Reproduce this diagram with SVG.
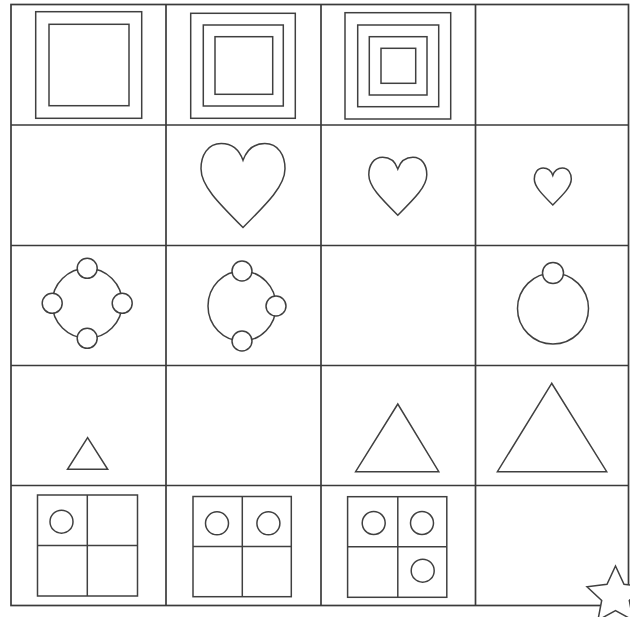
<svg xmlns="http://www.w3.org/2000/svg" width="630" height="617" viewBox="0 0 630 617">
<style>
.grid{fill:none;stroke:#3a3a3a;stroke-width:1.7}
.s{fill:none;stroke:#404040;stroke-width:1.5}
.w{fill:#fff;stroke:#404040;stroke-width:1.5}
</style>
<rect width="630" height="617" fill="#fff"/>
<g id="grid" class="grid">
<rect x="11" y="4.5" width="617.5" height="601"/>
<line x1="166" y1="4.5" x2="166" y2="605.5"/>
<line x1="321" y1="4.5" x2="321" y2="605.5"/>
<line x1="475.5" y1="4.5" x2="475.5" y2="605.5"/>
<line x1="11" y1="125" x2="628.5" y2="125"/>
<line x1="11" y1="245.5" x2="628.5" y2="245.5"/>
<line x1="11" y1="365.5" x2="628.5" y2="365.5"/>
<line x1="11" y1="485.5" x2="628.5" y2="485.5"/>
</g>
<g id="r1c1" class="s">
<rect x="35.7" y="11.7" width="106" height="106.6"/>
<rect x="49" y="24.3" width="80" height="81.4"/>
</g>
<g id="r1c2" class="s">
<rect x="190.7" y="13.3" width="104.6" height="105"/>
<rect x="203.3" y="25" width="80" height="81"/>
<rect x="215" y="36.7" width="57.7" height="57.6"/>
</g>
<g id="r1c3" class="s">
<rect x="345" y="12.7" width="105.7" height="106.3"/>
<rect x="357.7" y="25" width="81" height="81.7"/>
<rect x="369.3" y="36.7" width="57.7" height="58.3"/>
<rect x="381" y="48.3" width="34.7" height="35"/>
</g>
<g id="r2c2" class="s">
<path d="M243,160.3 C238.8,148.5 230.4,143.5 221.2,143.5 C207.7,143.5 201,155.3 201,168.7 C201,185.5 217.8,202.3 243,227.5 C268.2,202.3 285,185.5 285,168.7 C285,155.3 278.3,143.5 264.8,143.5 C255.6,143.5 247.2,148.5 243,160.3 Z"/>
</g>
<g id="r2c3" class="s">
<path d="M397.8,168.9 C394.9,160.8 389.1,157.3 382.7,157.3 C373.4,157.3 368.8,165.4 368.8,174.7 C368.8,186.3 380.4,197.9 397.8,215.3 C415.2,197.9 426.8,186.3 426.8,174.7 C426.8,165.4 422.2,157.3 412.9,157.3 C406.5,157.3 400.7,160.8 397.8,168.9 Z"/>
</g>
<g id="r2c4" class="s">
<path d="M552.8,175.4 C550.95,170.2 547.25,168 543.2,168 C537.3,168 534.3,173.2 534.3,179.1 C534.3,186.5 541.7,193.9 552.8,205 C563.9,193.9 571.3,186.5 571.3,179.1 C571.3,173.2 568.3,168 562.4,168 C558.35,168 554.65,170.2 552.8,175.4 Z"/>
</g>
<g id="r3c1">
<circle class="s" cx="87.2" cy="303.3" r="35"/>
<circle class="w" cx="87.2" cy="268.3" r="10"/>
<circle class="w" cx="52.2" cy="303.3" r="10"/>
<circle class="w" cx="122.2" cy="303.3" r="10"/>
<circle class="w" cx="87.2" cy="338.3" r="10"/>
</g>
<g id="r3c2">
<ellipse class="s" cx="242" cy="306" rx="34" ry="35"/>
<circle class="w" cx="242" cy="271" r="10"/>
<circle class="w" cx="276" cy="306" r="10"/>
<circle class="w" cx="242" cy="341" r="10"/>
</g>
<g id="r3c4">
<circle class="s" cx="553" cy="308.5" r="35.5"/>
<circle class="w" cx="553" cy="273" r="10.5"/>
</g>
<g id="r4c1" class="s"><polygon points="87.6,437.7 67.5,469.3 107.7,469.3"/></g>
<g id="r4c3" class="s"><polygon points="397.8,404 355.6,471.7 438.8,471.7"/></g>
<g id="r4c4" class="s"><polygon points="551.7,383.3 497.4,471.7 606.7,471.7"/></g>
<g id="r5c1" class="s">
<rect x="37.5" y="495" width="100" height="101"/>
<line x1="87.3" y1="495" x2="87.3" y2="596"/>
<line x1="37.5" y1="545.5" x2="137.5" y2="545.5"/>
<circle cx="61.5" cy="521.7" r="11.5"/>
</g>
<g id="r5c2" class="s">
<rect x="193" y="496.5" width="98.3" height="100.2"/>
<line x1="242.3" y1="496.5" x2="242.3" y2="596.7"/>
<line x1="193" y1="546.5" x2="291.3" y2="546.5"/>
<circle cx="217" cy="523.3" r="11.5"/>
<circle cx="268.4" cy="523.3" r="11.5"/>
</g>
<g id="r5c3" class="s">
<rect x="347.6" y="496.7" width="99.2" height="100.6"/>
<line x1="397.8" y1="496.7" x2="397.8" y2="597.3"/>
<line x1="347.6" y1="546.7" x2="446.8" y2="546.7"/>
<circle cx="373.7" cy="523" r="11.5"/>
<circle cx="422" cy="523" r="11.5"/>
<circle cx="422.7" cy="570.7" r="11.5"/>
</g>
<g id="star">
<polygon class="w" points="615.5,566 624,584.3 644,586.7 629.3,600.5 633.1,620.3 615.5,610.5 597.9,620.3 601.7,600.5 587,586.7 607,584.3"/>
</g>
</svg>
